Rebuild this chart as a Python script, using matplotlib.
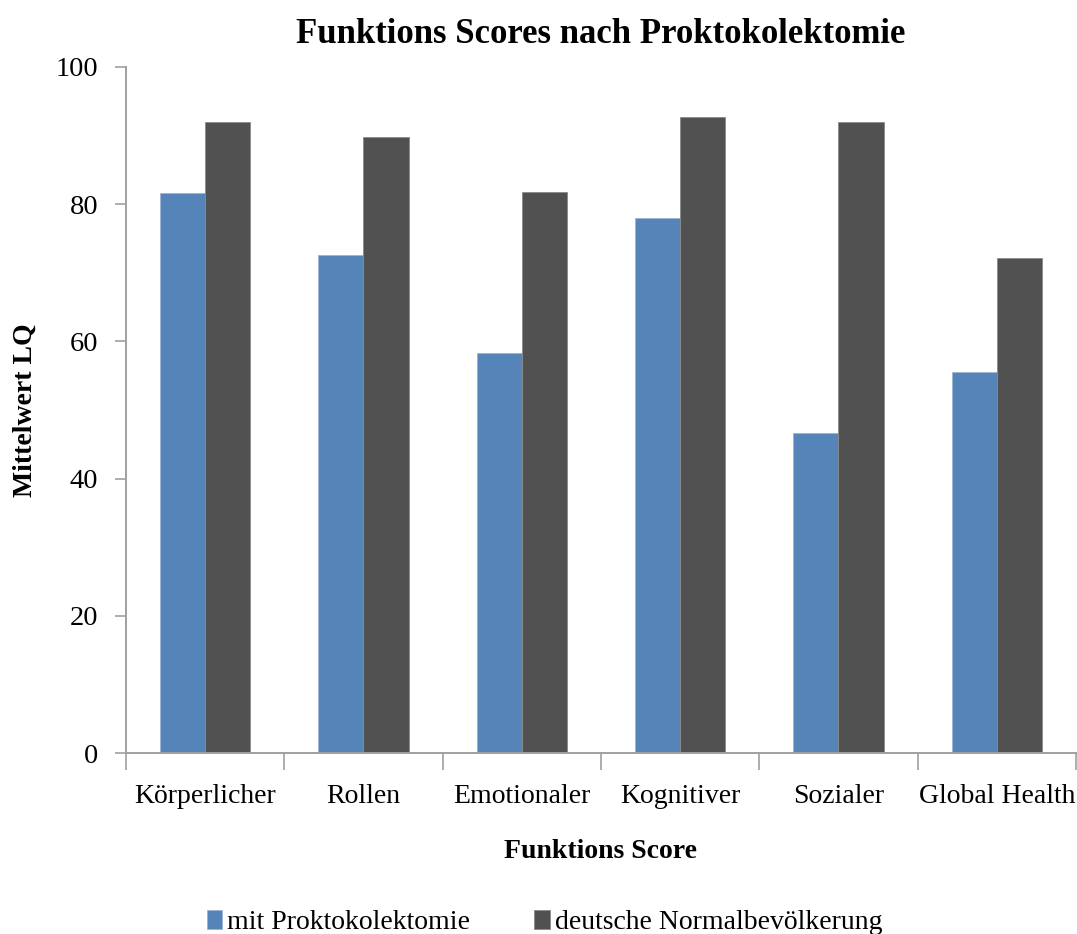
import numpy as np
import matplotlib
matplotlib.use('Agg')
import matplotlib.pyplot as plt
from matplotlib.ticker import FixedLocator

plt.rcParams['font.family'] = ['Liberation Serif', 'DejaVu Serif']

categories = ['Körperlicher', 'Rollen', 'Emotionaler', 'Kognitiver', 'Sozialer', 'Global Health']
mit_prokto = [81.6, 72.6, 58.3, 78.0, 46.6, 55.6]
normal_bev = [92.0, 89.7, 81.8, 92.7, 92.0, 72.1]
series_names = ['mit Proktokolektomie', 'deutsche Normalbevölkerung']
colors = ['#5585B8', '#515151']

fig = plt.figure(figsize=(10.77, 9.34), dpi=100)
ax = fig.add_axes([0.117, 0.1935, 0.882, 0.735])

x = np.arange(len(categories))
w = 0.2857
ax.bar(x - w/2, mit_prokto, w, color=colors[0], edgecolor='#9DB4D3', linewidth=0.6,
       label=series_names[0])
ax.bar(x + w/2, normal_bev, w, color=colors[1], edgecolor='#8A8A8A', linewidth=0.6,
       label=series_names[1])

ax.set_xlim(-0.5, len(categories) - 0.5)
ax.set_ylim(0, 100)
ax.set_yticks([0, 20, 40, 60, 80, 100])

# category labels in the middle, tick marks on the boundaries
ax.set_xticks(x)
ax.set_xticklabels(categories)
ax.xaxis.set_minor_locator(FixedLocator(np.arange(-0.5, len(categories), 1.0)))
ax.tick_params(axis='x', which='major', length=0, pad=22, labelsize=20)
ax.tick_params(axis='x', which='minor', length=12, width=1.2, color='#A0A0A0', direction='out')
ax.tick_params(axis='y', length=8, width=1.2, color='#A0A0A0', pad=12, labelsize=20.5)

for s in ['top', 'right']:
    ax.spines[s].set_visible(False)
for s in ['left', 'bottom']:
    ax.spines[s].set_color('#A0A0A0')
    ax.spines[s].set_linewidth(1.4)

ax.set_title('Funktions Scores nach Proktokolektomie', fontsize=25, fontweight='bold', pad=17)
ax.set_xlabel('Funktions Score', fontsize=20, fontweight='bold', labelpad=22)
ax.set_ylabel('Mittelwert LQ', fontsize=20, fontweight='bold', labelpad=13)

fig.legend(loc='lower center', bbox_to_anchor=(0.5056, -0.028), ncol=2, frameon=False,
           fontsize=20, handlelength=0.55, handleheight=0.65, handletextpad=0.2,
           columnspacing=2.3)

fig.savefig('out.png', dpi=100)
